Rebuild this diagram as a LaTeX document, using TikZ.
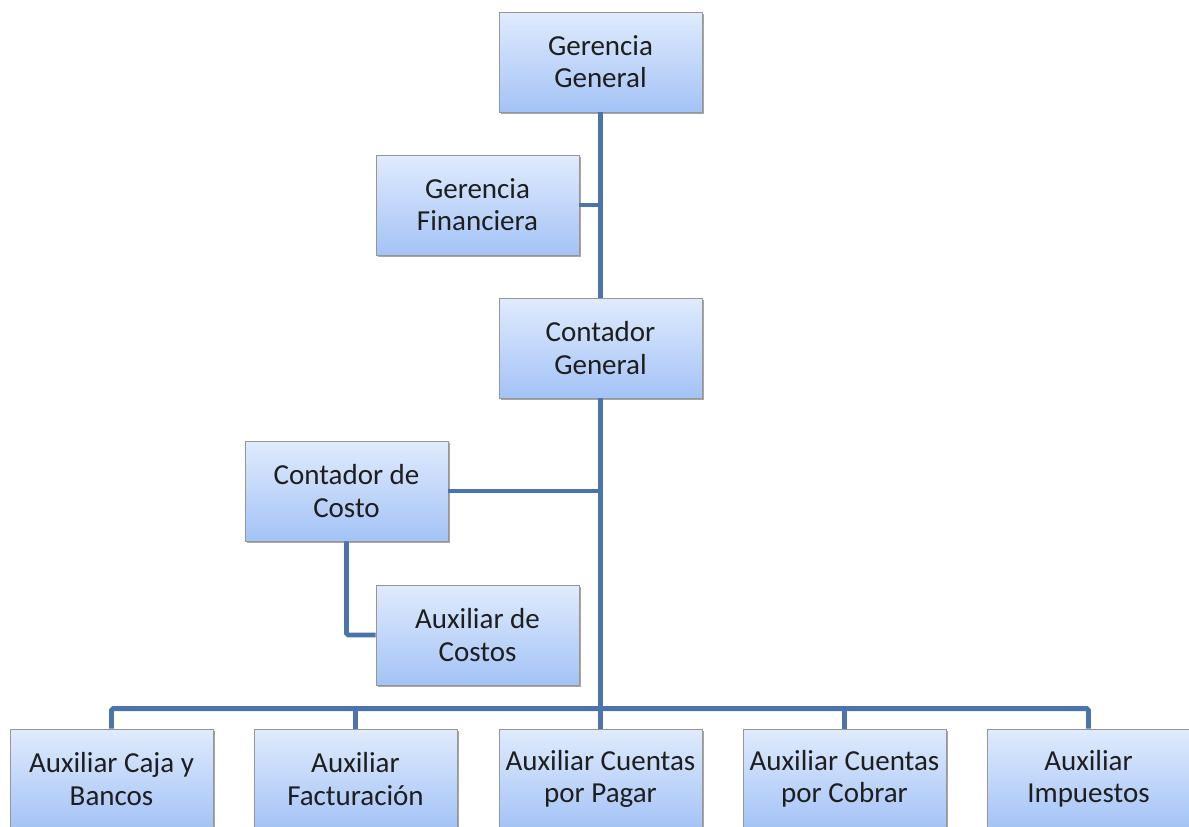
\documentclass[tikz,border=0pt]{standalone}
\usepackage{fontspec}
\setmainfont{Carlito}
\usepackage{xcolor}
\usetikzlibrary{positioning,shadows,calc}
\definecolor{linea}{RGB}{74,116,171}
\definecolor{borde}{RGB}{150,150,150}
\definecolor{arriba}{RGB}{224,235,253}
\definecolor{abajo}{RGB}{163,195,246}
\definecolor{texto}{RGB}{30,30,30}

\tikzset{
  puesto/.style={draw=borde,line width=0.5pt,top color=arriba,bottom color=abajo,
    minimum width=4.06cm,minimum height=2cm,align=center,text=texto,
    font=\fontsize{16.5}{18.3}\selectfont,
    drop shadow={shadow xshift=1.2pt,shadow yshift=-1.2pt,opacity=0.35,fill=black}},
  enlace/.style={draw=linea,line width=2.8pt,rounded corners=1pt}
}

\begin{document}
\begin{tikzpicture}[x=0.02cm,y=-0.02cm]
\useasboundingbox (0,0) rectangle (1189,826);
\clip (0,0) rectangle (1189,826);
% cargos
\node[puesto] (gg) at (600.5,62) {Gerencia\\General};
\node[puesto] (gf) at (477.5,205) {Gerencia\\Financiera};
\node[puesto] (cg) at (600.5,348) {Contador\\General};
\node[puesto] (cc) at (346.5,491) {Contador de\\Costo};
\node[puesto] (ac) at (477.5,635) {Auxiliar de\\Costos};
% auxiliares
\node[puesto] (b1) at (111.5,779) {Auxiliar Caja y\\Bancos};
\node[puesto] (b2) at (355.5,779) {Auxiliar\\Facturación};
\node[puesto] (b3) at (600.5,779) {Auxiliar Cuentas\\por Pagar};
\node[puesto] (b4) at (844.5,779) {Auxiliar Cuentas\\por Cobrar};
\node[puesto] (b5) at (1088.5,779) {Auxiliar\\Impuestos};
% lineas
\draw[enlace] (gg.south) -- (cg.north);
\draw[enlace] (gf.east) -- (gf.east -| gg.south);
\draw[enlace] (cg.south) -- (b3.north);
\draw[enlace] (cc.east) -- (cc.east -| cg.south);
\draw[enlace] (cc.south) |- (ac.west);
\draw[enlace] (b1.north) -- ++(0,-20) -| (b5.north);
\foreach \n in {b2,b4}
  \draw[enlace] (\n.north) -- ++(0,-20);
\end{tikzpicture}
\end{document}
